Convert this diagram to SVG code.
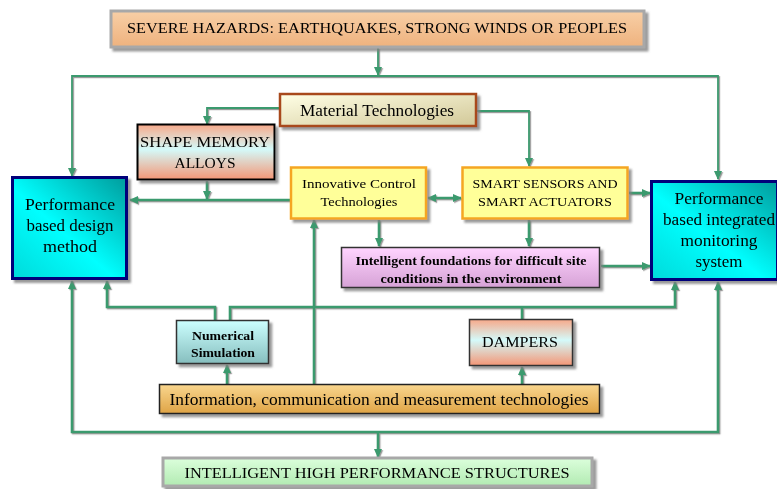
<svg xmlns="http://www.w3.org/2000/svg" width="777" height="489" viewBox="0 0 777 489">
<defs>
<style>
text{font-family:"Liberation Serif","DejaVu Serif",serif;fill:#000;text-anchor:middle}
.t15{font-size:15px}.t16{font-size:16px}.t17{font-size:17px}.t13{font-size:13px}.t12{font-size:12px;font-weight:bold}
.c{fill:none;stroke:#3A9A6E;stroke-width:2.6}
.thin{stroke-width:1.8}
.box{filter:url(#sh)}
</style>
<filter id="sh" x="-10%" y="-10%" width="130%" height="140%"><feDropShadow dx="3" dy="3" stdDeviation="1" flood-color="#808080" flood-opacity="0.8"/></filter>
<filter id="lsh" x="-10%" y="-10%" width="130%" height="130%"><feDropShadow dx="1.2" dy="1.2" stdDeviation="0.4" flood-color="#909090" flood-opacity="0.9"/></filter>
<marker id="ar" viewBox="0 0 10 10" refX="9" refY="5" markerWidth="9" markerHeight="9" markerUnits="userSpaceOnUse" orient="auto-start-reverse"><path d="M0,0.5 L10,5 L0,9.5 Z" fill="#3A9A6E"/></marker>
<linearGradient id="gHaz" x1="0" y1="0" x2="0" y2="1"><stop offset="0" stop-color="#F8CFA6"/><stop offset="1" stop-color="#EEB27E"/></linearGradient>
<linearGradient id="gCyan" x1="1" y1="0" x2="0" y2="1"><stop offset="0" stop-color="#009C9C"/><stop offset="0.55" stop-color="#00FFFF"/><stop offset="1" stop-color="#00DADA"/></linearGradient>
<linearGradient id="gMat" x1="0" y1="0" x2="1" y2="1"><stop offset="0" stop-color="#FFFFE6"/><stop offset="1" stop-color="#D2C898"/></linearGradient>
<linearGradient id="gSal" x1="0" y1="0" x2="0" y2="1"><stop offset="0" stop-color="#F7A98A"/><stop offset="0.45" stop-color="#D4FAFA"/><stop offset="1" stop-color="#F49676"/></linearGradient>
<linearGradient id="gPink" x1="0" y1="0" x2="0" y2="1"><stop offset="0" stop-color="#FFD4FF"/><stop offset="1" stop-color="#D6A2D6"/></linearGradient>
<linearGradient id="gNum" x1="0" y1="0" x2="0" y2="1"><stop offset="0" stop-color="#CCFFFF"/><stop offset="1" stop-color="#86BEBE"/></linearGradient>
<linearGradient id="gInfo" x1="0" y1="0" x2="0" y2="1"><stop offset="0" stop-color="#F9D68E"/><stop offset="1" stop-color="#DFA446"/></linearGradient>
<linearGradient id="gGreen" x1="0" y1="0" x2="0" y2="1"><stop offset="0" stop-color="#DCFFDC"/><stop offset="1" stop-color="#B2EAB2"/></linearGradient>
</defs>
<rect width="777" height="489" fill="#fff"/>

<g id="connectors" filter="url(#lsh)">
<path class="c thin" d="M378,48 V75" marker-end="url(#ar)"/>
<path class="c thin" d="M378,76 H72 V176" marker-end="url(#ar)"/>
<path class="c thin" d="M378,76 H718 V179" marker-end="url(#ar)"/>
<path class="c thin" d="M279,108 H207 V124" marker-end="url(#ar)"/>
<path class="c thin" d="M477,111 H529 V166" marker-end="url(#ar)"/>
<path class="c" d="M207,181 V199" marker-end="url(#ar)"/>
<path class="c" d="M290,200 H130" marker-end="url(#ar)"/>
<path class="c" d="M428,198 H461" marker-start="url(#ar)" marker-end="url(#ar)"/>
<path class="c" d="M629,193 H650" marker-end="url(#ar)"/>
<path class="c" d="M379,220 V246" marker-end="url(#ar)"/>
<path class="c" d="M529,220 V246" marker-end="url(#ar)"/>
<path class="c" d="M601,266 H650" marker-end="url(#ar)"/>
<path class="c" d="M314,384 V220" marker-end="url(#ar)"/>
<path class="c" d="M215,320 V307 H107 V281" marker-end="url(#ar)"/>
<path class="c" d="M230,320 V307 H675 V282" marker-end="url(#ar)"/>
<path class="c" d="M522,319 V307"/>
<path class="c" d="M227,384 V365" marker-end="url(#ar)"/>
<path class="c" d="M522,384 V367" marker-end="url(#ar)"/>
<path class="c" d="M378,432 H72 V281" marker-end="url(#ar)"/>
<path class="c" d="M378,432 H718 V282" marker-end="url(#ar)"/>
<path class="c" d="M378,432 V457" marker-end="url(#ar)"/>
</g>

<g id="hazards" class="box">
<rect x="111" y="11" width="533" height="36" fill="url(#gHaz)" stroke="#A8A8A8" stroke-width="3"/>
<text class="t15" x="377" y="33" textLength="500" lengthAdjust="spacingAndGlyphs">SEVERE HAZARDS: EARTHQUAKES, STRONG WINDS OR PEOPLES</text>
</g>

<g id="material" class="box">
<rect x="280" y="94" width="196" height="32" fill="url(#gMat)" stroke="#A84A1C" stroke-width="2.5"/>
<text class="t16" x="377" y="116" textLength="154" lengthAdjust="spacingAndGlyphs">Material Technologies</text>
</g>

<g id="shape-memory" class="box">
<rect x="137.5" y="124.5" width="137" height="55" fill="url(#gSal)" stroke="#000" stroke-width="2"/>
<text class="t15" x="205" y="147" textLength="130" lengthAdjust="spacingAndGlyphs">SHAPE MEMORY</text>
<text class="t15" x="205" y="168" textLength="61" lengthAdjust="spacingAndGlyphs">ALLOYS</text>
</g>

<g id="perf-design" class="box">
<rect x="12.5" y="177.5" width="114" height="101" fill="url(#gCyan)" stroke="#00007A" stroke-width="3"/>
<text class="t17" x="70" y="210" textLength="90" lengthAdjust="spacingAndGlyphs">Performance</text>
<text class="t17" x="70" y="231" textLength="87" lengthAdjust="spacingAndGlyphs">based design</text>
<text class="t17" x="70" y="252" textLength="54" lengthAdjust="spacingAndGlyphs">method</text>
</g>

<g id="innovative" class="box">
<rect x="291" y="167.5" width="135" height="51" fill="#FFFF99" stroke="#F5A623" stroke-width="2.5"/>
<text class="t13" x="359" y="188" textLength="114" lengthAdjust="spacingAndGlyphs">Innovative Control</text>
<text class="t13" x="359" y="206" textLength="77" lengthAdjust="spacingAndGlyphs">Technologies</text>
</g>

<g id="smart" class="box">
<rect x="462.5" y="167.5" width="165" height="51" fill="#FFFF99" stroke="#F5A623" stroke-width="2.5"/>
<text class="t13" x="545" y="188" textLength="145" lengthAdjust="spacingAndGlyphs">SMART SENSORS AND</text>
<text class="t13" x="545" y="206" textLength="134" lengthAdjust="spacingAndGlyphs">SMART ACTUATORS</text>
</g>

<g id="perf-monitoring" class="box">
<rect x="651.5" y="181.5" width="126" height="98" fill="url(#gCyan)" stroke="#00007A" stroke-width="3"/>
<text class="t17" x="719" y="204" textLength="89" lengthAdjust="spacingAndGlyphs">Performance</text>
<text class="t17" x="719" y="225" textLength="112" lengthAdjust="spacingAndGlyphs">based integrated</text>
<text class="t17" x="719" y="246" textLength="77" lengthAdjust="spacingAndGlyphs">monitoring</text>
<text class="t17" x="719" y="267" textLength="47" lengthAdjust="spacingAndGlyphs">system</text>
</g>

<g id="foundations" class="box">
<rect x="341.5" y="247.5" width="258" height="40" fill="url(#gPink)" stroke="#333" stroke-width="1.5"/>
<text class="t12" x="471" y="265" textLength="231" lengthAdjust="spacingAndGlyphs">Intelligent foundations for difficult site</text>
<text class="t12" x="471" y="283" textLength="181" lengthAdjust="spacingAndGlyphs">conditions in the environment</text>
</g>

<g id="numerical" class="box">
<rect x="176.5" y="320.5" width="92" height="43" fill="url(#gNum)" stroke="#333" stroke-width="1.5"/>
<text class="t12" x="223" y="340" textLength="62" lengthAdjust="spacingAndGlyphs">Numerical</text>
<text class="t12" x="223" y="357" textLength="64" lengthAdjust="spacingAndGlyphs">Simulation</text>
</g>

<g id="dampers" class="box">
<rect x="469.5" y="319.5" width="103" height="46" fill="url(#gSal)" stroke="#333" stroke-width="1.5"/>
<text class="t15" x="520" y="347" textLength="76" lengthAdjust="spacingAndGlyphs">DAMPERS</text>
</g>

<g id="information" class="box">
<rect x="159.5" y="384.5" width="440" height="29" fill="url(#gInfo)" stroke="#222" stroke-width="1.5"/>
<text class="t16" x="379" y="405" textLength="419" lengthAdjust="spacingAndGlyphs">Information, communication and measurement technologies</text>
</g>

<g id="structures" class="box">
<rect x="163" y="458" width="429" height="28" fill="url(#gGreen)" stroke="#A8A8A8" stroke-width="3"/>
<text class="t15" x="377" y="478" textLength="385" lengthAdjust="spacingAndGlyphs">INTELLIGENT HIGH PERFORMANCE STRUCTURES</text>
</g>
</svg>
